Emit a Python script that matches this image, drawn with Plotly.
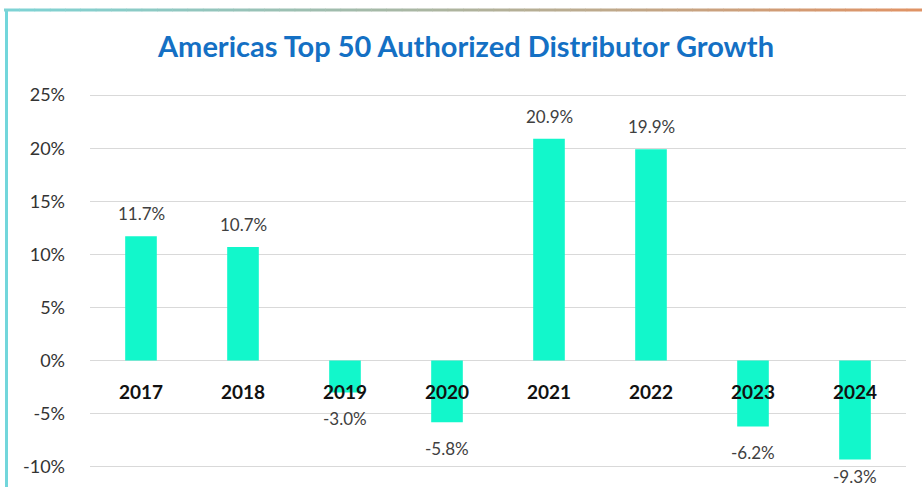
import plotly.graph_objects as go

years = ["2017", "2018", "2019", "2020", "2021", "2022", "2023", "2024"]
growth = [11.7, 10.7, -3.0, -5.8, 20.9, 19.9, -6.2, -9.3]
value_labels = ["11.7%", "10.7%", "-3.0%", "-5.8%", "20.9%", "19.9%", "-6.2%", "-9.3%"]
y_ticks = [-10, -5, 0, 5, 10, 15, 20, 25]
y_tick_labels = ["-10%", "-5%", "0%", "5%", "10%", "15%", "20%", "25%"]

W, H = 922, 487
L, R, T, B = 90, 16, 93, 0
Y0, Y1 = -11.9, 25.2
FONT = "Lato"
BAR = "#12F7CB"

pw = W - L - R
ph = H - T - B

fig = go.Figure()
fig.add_trace(go.Bar(x=years, y=growth, marker=dict(color=BAR, line=dict(width=0)),
                     hoverinfo="skip"))

ann = []
for i, (yr, v, lab) in enumerate(zip(years, growth, value_labels)):
    if v > 0:
        anchor, shift = "bottom", 10
    else:
        # keep the label inside the picture when the bar is long
        bar_end_px = T + (Y1 - v) * ph / (Y1 - Y0)
        room = (H - 1) - bar_end_px - 22
        anchor, shift = "top", -min(14, max(room, 1))
    ann.append(dict(x=i, y=v, xref="x", yref="y", text=lab, showarrow=False,
                    yanchor=anchor, yshift=shift,
                    font=dict(family=FONT, size=17, color="#404040")))
    ann.append(dict(x=i, y=0, xref="x", yref="y", text="<b>" + yr + "</b>", showarrow=False,
                    yanchor="middle", yshift=-31,
                    font=dict(family=FONT, size=19, color="#111111")))

def px_x(p):
    return (p - L) / pw
def px_y(p):
    return (H - B - p) / ph

shapes = []
# left cyan border
shapes.append(dict(type="line", xref="paper", yref="paper",
                   x0=px_x(6.5), x1=px_x(6.5), y0=px_y(10), y1=px_y(H + 5),
                   line=dict(color="#72D6DB", width=3)))
# top gradient line teal -> orange
c0 = (125, 212, 214)
c1 = (224, 146, 100)
n = 60
x_start, x_end = 4, W
for k in range(n):
    t = (k + 0.5) / n
    col = "rgb(%d,%d,%d)" % tuple(round(a + (b - a) * t) for a, b in zip(c0, c1))
    xa = x_start + (x_end - x_start) * k / n
    xb = x_start + (x_end - x_start) * (k + 1) / n + 0.5
    shapes.append(dict(type="line", xref="paper", yref="paper",
                       x0=px_x(xa), x1=px_x(xb), y0=px_y(10), y1=px_y(10),
                       line=dict(color=col, width=3)))

fig.update_layout(
    width=W, height=H,
    margin=dict(l=L, r=R, t=T, b=B, pad=0),
    paper_bgcolor="white", plot_bgcolor="white",
    showlegend=False,
    bargap=0.69,
    title=dict(text="<b>Americas Top 50 Authorized Distributor Growth</b>",
               x=466 / W, xanchor="center",
               y=1 - 47 / H, yanchor="middle",
               font=dict(family=FONT, size=29, color="#1470C4")),
    xaxis=dict(type="category", range=[-0.5, len(years) - 0.5], showticklabels=False,
               showgrid=False, zeroline=False, showline=False, ticks=""),
    yaxis=dict(range=[Y0, Y1], tickvals=y_ticks, ticktext=y_tick_labels,
               showgrid=True, gridcolor="#D9D9D9", gridwidth=1.3,
               zeroline=True, zerolinecolor="#D9D9D9", zerolinewidth=1.3,
               showline=False, ticks="", ticklabelstandoff=24,
               tickfont=dict(family=FONT, size=18, color="#333333")),
    annotations=ann,
    shapes=shapes,
)

fig.write_html("out.html")
